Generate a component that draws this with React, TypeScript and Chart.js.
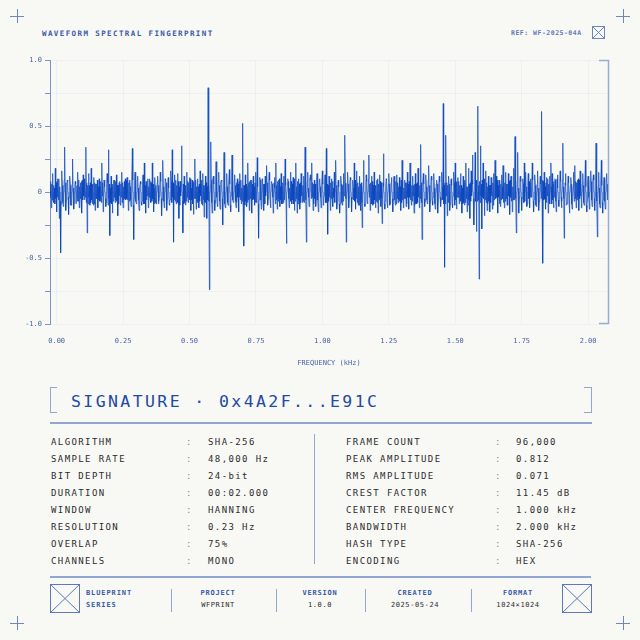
import React, { useEffect, useRef } from "react";
import { Chart, registerables } from "chart.js";
Chart.register(...registerables);

// ---- data ----
const SAMPLE_START_KHZ = -0.025;
const SAMPLE_STEP_KHZ = 0.005;
// peak samples (hundredths), 20 per row
const WAVE_A = [
  5,-12,14,-8,18,-15,10,-20,-46,16,-11,34,-14,9,-17,12,-10,25,-13,8,
  -9,15,-12,7,-16,13,-6,34,-31,14,-10,18,-9,11,-14,6,-12,10,-7,22,
  -15,8,-11,14,32,-33,12,-16,9,-8,13,-18,7,-10,15,-12,8,-6,11,-14,
  9,-11,33,-36,15,-9,12,-14,8,-10,13,22,-16,7,-12,10,-8,22,-15,11,
  -9,12,-7,15,-18,24,-12,9,-14,11,-10,16,32,-38,13,-9,14,-20,8,35,
  -31,12,-10,15,-8,11,-14,9,-17,25,-13,10,-12,16,-9,14,-19,12,-20,79,
  -74,38,-16,12,-14,23,-11,15,-13,9,-25,30,-12,14,-10,17,-15,28,-8,13,
];
const WAVE_B = [
  -12,10,-15,14,-9,52,-41,13,-11,22,-14,9,-16,12,-10,15,26,-35,11,-13,
  9,-14,12,20,-10,15,-12,8,-16,11,22,-13,9,-11,14,-9,12,25,-39,10,
  -12,15,-9,11,-14,22,-16,10,-13,14,-8,12,34,-38,15,-11,13,22,-14,9,
  -11,14,-15,10,-12,16,-9,13,33,-32,12,-14,10,-11,15,24,-13,9,-16,12,
  -10,14,43,-38,15,-12,11,-15,9,22,-13,16,-10,12,-14,-27,24,-11,13,-9,
  28,-14,12,-10,15,-12,9,-16,13,-11,-24,29,-13,10,-12,14,-9,11,-15,12,
  -10,13,-8,11,-14,24,-12,9,-11,15,-13,22,-10,12,-16,14,-9,18,-12,36,
];
const WAVE_C = [
  -36,14,-11,13,-9,20,-15,12,-10,14,-13,9,-16,12,-11,15,67,-57,43,-18,
  12,-14,10,-12,15,22,-13,11,-9,14,-16,12,-10,22,-15,18,-20,16,28,-25,
  30,-30,65,-66,35,-28,22,-18,16,-14,12,-15,11,-13,14,24,12,-16,9,-11,
  13,20,-12,15,-10,14,-17,12,-15,18,42,-31,30,-16,12,-14,10,22,15,-11,
  14,-12,10,22,-15,13,-11,16,-14,12,61,-54,15,-13,11,-16,12,22,14,-12,
  10,-15,13,-11,16,-12,37,-35,14,-10,12,-16,11,-13,15,20,-12,9,-14,16,
  -12,14,-10,24,-15,12,-13,16,-11,13,-14,37,-34,15,-12,24,-16,11,-13,14,
];
// first in-between (core) sample after each peak sample (hundredths)
const CORE1_A = [
  -4,6,-7,3,-5,8,-6,4,-9,5,-3,7,-6,8,-4,5,-7,3,-8,6,
  5,-7,4,-6,9,-3,6,-8,5,-4,7,-6,3,-9,6,-5,4,-7,8,-3,
  -6,4,-8,7,-5,3,-9,6,-4,8,-7,5,-3,6,-8,4,-5,9,-6,7,
  4,-6,9,-5,7,-8,3,-4,6,-7,5,-9,8,-3,4,-6,7,-5,3,-8,
  -7,5,-3,8,-6,4,-9,7,-5,3,-6,8,-4,6,-7,5,-8,4,-3,9,
  6,-8,5,-4,7,-6,3,-9,8,-5,4,-7,6,-3,9,-6,5,-8,4,-7,
  -5,9,-4,6,-8,3,-7,5,-6,8,-4,7,-9,4,-5,6,-3,8,-7,5,
];
const CORE1_B = [
  7,-4,8,-6,3,-9,5,-7,4,-6,8,-3,6,-5,7,-8,4,-6,9,-4,
  -8,6,-3,7,-5,9,-4,6,-7,3,-6,8,-5,4,-9,7,-6,5,-3,8,
  3,-7,6,-9,4,-5,8,-6,7,-3,5,-8,4,-6,3,-7,9,-4,6,-5,
  -6,8,-5,4,-7,6,-3,9,-8,5,-4,7,-6,3,-8,5,-7,4,-9,6,
  5,-3,7,-8,6,-4,9,-5,3,-7,6,-8,4,-6,7,-3,5,-9,8,-4,
  -4,7,-9,5,-6,3,-8,6,-5,7,-3,4,-7,9,-5,6,-4,8,-6,3,
  8,-5,4,-7,9,-6,3,-5,7,-4,8,-6,5,-3,6,-9,7,-4,5,-8,
];
const CORE1_C = [
  -3,6,-7,4,-8,5,-6,9,-4,3,-7,6,-5,8,-6,4,-9,7,-3,5,
  6,-9,5,-3,7,-6,8,-4,5,-7,3,-8,9,-5,4,-6,7,-3,6,-7,
  -7,4,-6,8,-3,9,-5,6,-8,4,-7,5,-3,7,-6,8,-4,5,-9,6,
  4,-8,7,-5,6,-3,9,-7,4,-6,5,-8,3,-4,8,-5,6,-7,4,-9,
  -5,7,-4,9,-6,5,-8,3,-7,6,-4,8,-5,7,-3,6,-9,4,-6,8,
  9,-6,3,-5,8,-7,4,-6,5,-9,7,-3,6,-8,4,-5,7,-4,9,-3,
  -6,5,-8,4,-7,6,-3,8,-5,9,-4,6,-7,3,-8,5,-6,7,-4,6,
];
// second in-between (core) sample after each peak sample (hundredths)
const CORE2_A = [
  8,-6,5,-9,7,-4,10,-7,6,-8,9,-5,7,-4,8,-10,6,-7,5,-9,
  -7,9,-5,8,-6,10,-4,7,-9,5,-8,6,-10,7,-5,9,-6,4,-8,7,
  9,-5,7,-10,6,-8,4,-7,9,-6,5,-9,8,-4,7,-6,10,-5,8,-7,
  -6,8,-10,5,-7,9,-6,4,-8,7,-9,5,-6,10,-4,8,-7,6,-9,5,
  7,-9,6,-5,8,-7,10,-4,6,-9,5,-8,7,-6,9,-4,8,-10,5,-7,
  -9,5,-7,8,-4,10,-6,7,-5,9,-8,4,-7,6,-10,5,-8,7,-6,9,
  5,-8,10,-6,7,-4,9,-7,8,-5,6,-9,4,-8,7,-10,5,-6,9,-7,
];
const CORE2_B = [
  -8,6,-4,9,-7,5,-10,6,-8,7,-5,9,-6,4,-8,7,-9,5,-6,10,
  6,-9,7,-5,10,-6,8,-4,7,-9,5,-7,10,-6,4,-8,6,-9,7,-5,
  -5,8,-6,10,-7,4,-9,6,-8,5,-7,9,-6,8,-4,10,-5,7,-9,6,
  8,-6,9,-4,7,-10,5,-8,6,-7,9,-5,8,-4,10,-6,7,-9,5,-8,
  -7,10,-5,6,-9,7,-4,8,-6,9,-5,7,-10,6,-8,4,-9,5,-7,10,
  6,-4,8,-9,5,-7,10,-6,8,-5,7,-9,4,-8,6,-10,7,-5,9,-6,
  -9,7,-6,4,-8,10,-5,7,-9,6,-4,8,-7,5,-10,6,-8,9,-5,7,
];
const CORE2_C = [
  7,-5,10,-6,9,-4,8,-7,5,-9,6,-10,7,-4,8,-6,5,-9,7,-8,
  -6,8,-9,5,-10,7,-4,8,-6,5,-9,7,-8,4,-10,6,-7,9,-5,8,
  9,-7,5,-8,6,-4,10,-6,7,-9,5,-8,6,-10,7,-5,9,-4,8,-6,
  -5,9,-7,6,-10,8,-4,7,-6,9,-5,8,-7,10,-4,6,-8,5,-9,7,
  8,-4,9,-7,5,-10,6,-8,7,-5,9,-6,4,-8,10,-7,5,-9,6,-4,
  -7,10,-6,8,-4,9,-5,7,-10,6,-8,5,-9,4,-7,8,-6,10,-5,9,
  6,-8,5,-10,7,-4,9,-6,8,-5,10,-7,4,-9,6,-8,5,-7,10,-6,
];
const X_TICKS = [0, 0.25, 0.5, 0.75, 1, 1.25, 1.5, 1.75, 2];
const Y_TICKS = [-1, -0.75, -0.5, -0.25, 0, 0.25, 0.5, 0.75, 1];
const Y_LABELED = [-1, -0.5, 0, 0.5, 1];
const X_TITLE = "FREQUENCY (kHz)";

const LEFT_ROWS: [string, string][] = [
  ["ALGORITHM", "SHA-256"],
  ["SAMPLE RATE", "48,000 Hz"],
  ["BIT DEPTH", "24-bit"],
  ["DURATION", "00:02.000"],
  ["WINDOW", "HANNING"],
  ["RESOLUTION", "0.23 Hz"],
  ["OVERLAP", "75%"],
  ["CHANNELS", "MONO"],
];
const RIGHT_ROWS: [string, string][] = [
  ["FRAME COUNT", "96,000"],
  ["PEAK AMPLITUDE", "0.812"],
  ["RMS AMPLITUDE", "0.071"],
  ["CREST FACTOR", "11.45 dB"],
  ["CENTER FREQUENCY", "1.000 kHz"],
  ["BANDWIDTH", "2.000 kHz"],
  ["HASH TYPE", "SHA-256"],
  ["ENCODING", "HEX"],
];
const FOOTER_COLS: [string, string, number][] = [
  ["PROJECT", "WFPRINT", 218],
  ["VERSION", "1.0.0", 320],
  ["CREATED", "2025-05-24", 415],
  ["FORMAT", "1024×1024", 518],
];
const FOOTER_DIVIDERS = [171, 276, 365, 471];

// ---- styles ----
const BG = "#f8f8f5";
const BLUE = "#2249a6";
const LABEL_BLUE = "#4a63a8";
const LINE = "#93a6d2";
const DARK = "#2c2c2e";
const MONO = "'DejaVu Sans Mono', 'Liberation Mono', monospace";

const bracketPlugin = {
  id: "rightBracket",
  afterDraw(chart: any) {
    const { ctx, chartArea } = chart;
    const { top, bottom, right } = chartArea;
    ctx.save();
    ctx.strokeStyle = "#9aabd3";
    ctx.lineWidth = 1.5;
    ctx.beginPath();
    ctx.moveTo(right - 9, top + 0.5);
    ctx.lineTo(right + 0.5, top + 0.5);
    ctx.lineTo(right + 0.5, bottom - 0.5);
    ctx.lineTo(right - 9, bottom - 0.5);
    ctx.stroke();
    ctx.restore();
  },
};

function WaveChart() {
  const ref = useRef<HTMLCanvasElement | null>(null);
  useEffect(() => {
    if (!ref.current) return;
    const peaks = [...WAVE_A, ...WAVE_B, ...WAVE_C];
    const core1 = [...CORE1_A, ...CORE1_B, ...CORE1_C];
    const core2 = [...CORE2_A, ...CORE2_B, ...CORE2_C];
    const points: { x: number; y: number }[] = [];
    peaks.forEach((a, i) => {
      const x0 = SAMPLE_START_KHZ + i * SAMPLE_STEP_KHZ;
      points.push({ x: x0, y: a / 100 });
      points.push({ x: x0 + SAMPLE_STEP_KHZ / 3, y: core1[i] / 100 });
      points.push({ x: x0 + (2 * SAMPLE_STEP_KHZ) / 3, y: core2[i] / 100 });
    });
    const tickFont = { family: MONO, size: 7 };
    const chart = new Chart(ref.current, {
      type: "line",
      data: {
        datasets: [
          {
            data: points,
            borderColor: "rgba(10, 70, 190, 0.7)",
            backgroundColor: "rgba(10, 70, 190, 0.3)",
            borderWidth: 1,
            pointRadius: 0,
            tension: 0,
            fill: "origin",
          },
        ],
      },
      options: {
        animation: false,
        responsive: false,
        devicePixelRatio: 1,
        layout: { padding: { top: 60, right: 32, left: 0, bottom: 0 } },
        plugins: { legend: { display: false }, tooltip: { enabled: false } },
        scales: {
          x: {
            type: "linear",
            min: -0.025,
            max: 2.075,
            afterBuildTicks: (s: any) => {
              s.ticks = X_TICKS.map((v) => ({ value: v }));
            },
            afterFit: (s: any) => {
              s.height = 56;
            },
            ticks: {
              font: tickFont,
              color: LABEL_BLUE,
              padding: 13,
              maxRotation: 0,
              callback: (v: any) => Number(v).toFixed(2),
            },
            grid: { color: "rgba(40, 80, 170, 0.045)", drawTicks: false },
            border: { display: false },
            title: {
              display: true,
              text: X_TITLE,
              font: { family: MONO, size: 7 },
              color: LABEL_BLUE,
              padding: { top: 0, bottom: 13 },
            },
          },
          y: {
            min: -1,
            max: 1,
            afterBuildTicks: (s: any) => {
              s.ticks = Y_TICKS.map((v) => ({ value: v }));
            },
            afterFit: (s: any) => {
              s.width = 50;
            },
            ticks: {
              font: tickFont,
              color: LABEL_BLUE,
              padding: 3,
              callback: (v: any) => {
                const n = Number(v);
                if (!Y_LABELED.includes(n)) return "";
                return n === 0 ? "0" : n.toFixed(1);
              },
            },
            grid: {
              color: "rgba(40, 80, 170, 0.045)",
              drawTicks: true,
              tickLength: 5,
              tickColor: "#7d92c6",
            },
            border: { display: true, color: "#7d92c6", width: 1 },
          },
        },
      },
      plugins: [bracketPlugin],
    } as any);
    return () => chart.destroy();
  }, []);
  return (
    <canvas
      ref={ref}
      width={640}
      height={380}
      style={{ position: "absolute", left: 0, top: 0, width: 640, height: 380 }}
    />
  );
}

function Cross({ x, y }: { x: number; y: number }) {
  return (
    <>
      <div style={{ position: "absolute", left: x - 7, top: y, width: 14, height: 1, background: "#6f86c0" }} />
      <div style={{ position: "absolute", left: x, top: y - 7, width: 1, height: 14, background: "#6f86c0" }} />
    </>
  );
}

function XBox({ x, y, w, h, color }: { x: number; y: number; w: number; h: number; color: string }) {
  return (
    <svg style={{ position: "absolute", left: x, top: y }} width={w} height={h}>
      <rect x={0.5} y={0.5} width={w - 1} height={h - 1} fill="none" stroke={color} strokeWidth={1} />
      <line x1={0.5} y1={0.5} x2={w - 0.5} y2={h - 0.5} stroke={color} strokeWidth={1} />
      <line x1={w - 0.5} y1={0.5} x2={0.5} y2={h - 0.5} stroke={color} strokeWidth={1} />
    </svg>
  );
}

const txt = (extra: React.CSSProperties): React.CSSProperties => ({
  position: "absolute",
  fontFamily: MONO,
  whiteSpace: "nowrap",
  lineHeight: 1,
  ...extra,
});

export default function App() {
  const rowY = (i: number) => 441 + i * 17.05;
  return (
    <div
      style={{
        position: "absolute",
        left: 0,
        top: 0,
        width: 640,
        height: 640,
        background: BG,
        overflow: "hidden",
      }}
    >
      <Cross x={17} y={16} />
      <Cross x={623} y={16} />
      <Cross x={17} y={623} />
      <Cross x={623} y={623} />

      <div style={txt({ left: 42, top: 29.5, fontSize: 7.5, fontWeight: 700, letterSpacing: 1.4, color: "#3a5aa8" })}>
        WAVEFORM SPECTRAL FINGERPRINT
      </div>
      <div style={txt({ left: 511, top: 30, fontSize: 6.5, fontWeight: 700, letterSpacing: 0.5, color: "#6479b4" })}>
        REF: WF-2025-04A
      </div>
      <XBox x={592} y={26} w={13} h={13} color="#6f86c0" />

      <WaveChart />

      {/* signature */}
      <div style={{ position: "absolute", left: 50, top: 387, width: 7, height: 26, borderLeft: `1.5px solid ${LINE}`, borderTop: `1.5px solid ${LINE}`, borderBottom: `1.5px solid ${LINE}`, boxSizing: "border-box" }} />
      <div style={{ position: "absolute", left: 584, top: 387, width: 8, height: 26, borderRight: `1.5px solid ${LINE}`, borderTop: `1.5px solid ${LINE}`, borderBottom: `1.5px solid ${LINE}`, boxSizing: "border-box" }} />
      <div style={txt({ left: 71, top: 394, fontSize: 16.5, letterSpacing: 2.4, color: BLUE })}>
        SIGNATURE · 0x4A2F...E91C
      </div>
      <div style={{ position: "absolute", left: 50, top: 422, width: 542, height: 1.5, background: LINE }} />

      {/* table */}
      {LEFT_ROWS.map(([k, v], i) => (
        <React.Fragment key={"l" + k}>
          <div style={txt({ left: 51, top: rowY(i) - 3.5, fontSize: 9, letterSpacing: 1.4, color: DARK })}>{k}</div>
          <div style={txt({ left: 186, top: rowY(i) - 3.5, fontSize: 9, color: "#8a8a8a" })}>:</div>
          <div style={txt({ left: 208, top: rowY(i) - 3.5, fontSize: 9, letterSpacing: 1.4, color: DARK })}>{v}</div>
        </React.Fragment>
      ))}
      <div style={{ position: "absolute", left: 314, top: 434, width: 1, height: 130, background: LINE }} />
      {RIGHT_ROWS.map(([k, v], i) => (
        <React.Fragment key={"r" + k}>
          <div style={txt({ left: 346, top: rowY(i) - 3.5, fontSize: 9, letterSpacing: 1.4, color: DARK })}>{k}</div>
          <div style={txt({ left: 495, top: rowY(i) - 3.5, fontSize: 9, color: "#8a8a8a" })}>:</div>
          <div style={txt({ left: 516, top: rowY(i) - 3.5, fontSize: 9, letterSpacing: 1.4, color: DARK })}>{v}</div>
        </React.Fragment>
      ))}

      {/* footer */}
      <div style={{ position: "absolute", left: 50, top: 576, width: 541, height: 1.5, background: LINE }} />
      <XBox x={50} y={584} w={30} h={29} color="#5f78bb" />
      <XBox x={562} y={584} w={30} h={29} color="#5f78bb" />
      <div style={txt({ left: 86, top: 590, fontSize: 7, fontWeight: 700, letterSpacing: 0.9, color: "#3a5aa8" })}>BLUEPRINT</div>
      <div style={txt({ left: 86, top: 602, fontSize: 7, fontWeight: 700, letterSpacing: 0.9, color: "#3a5aa8" })}>SERIES</div>
      {FOOTER_DIVIDERS.map((x) => (
        <div key={"d" + x} style={{ position: "absolute", left: x, top: 589, width: 1, height: 23, background: LINE }} />
      ))}
      {FOOTER_COLS.map(([k, v, cx]) => (
        <React.Fragment key={"f" + k}>
          <div style={txt({ left: cx - 50, width: 100, textAlign: "center", top: 590, fontSize: 7, fontWeight: 700, letterSpacing: 0.8, color: "#3a5aa8" })}>{k}</div>
          <div style={txt({ left: cx - 50, width: 100, textAlign: "center", top: 602, fontSize: 7, letterSpacing: 0.6, color: DARK })}>{v}</div>
        </React.Fragment>
      ))}
    </div>
  );
}
